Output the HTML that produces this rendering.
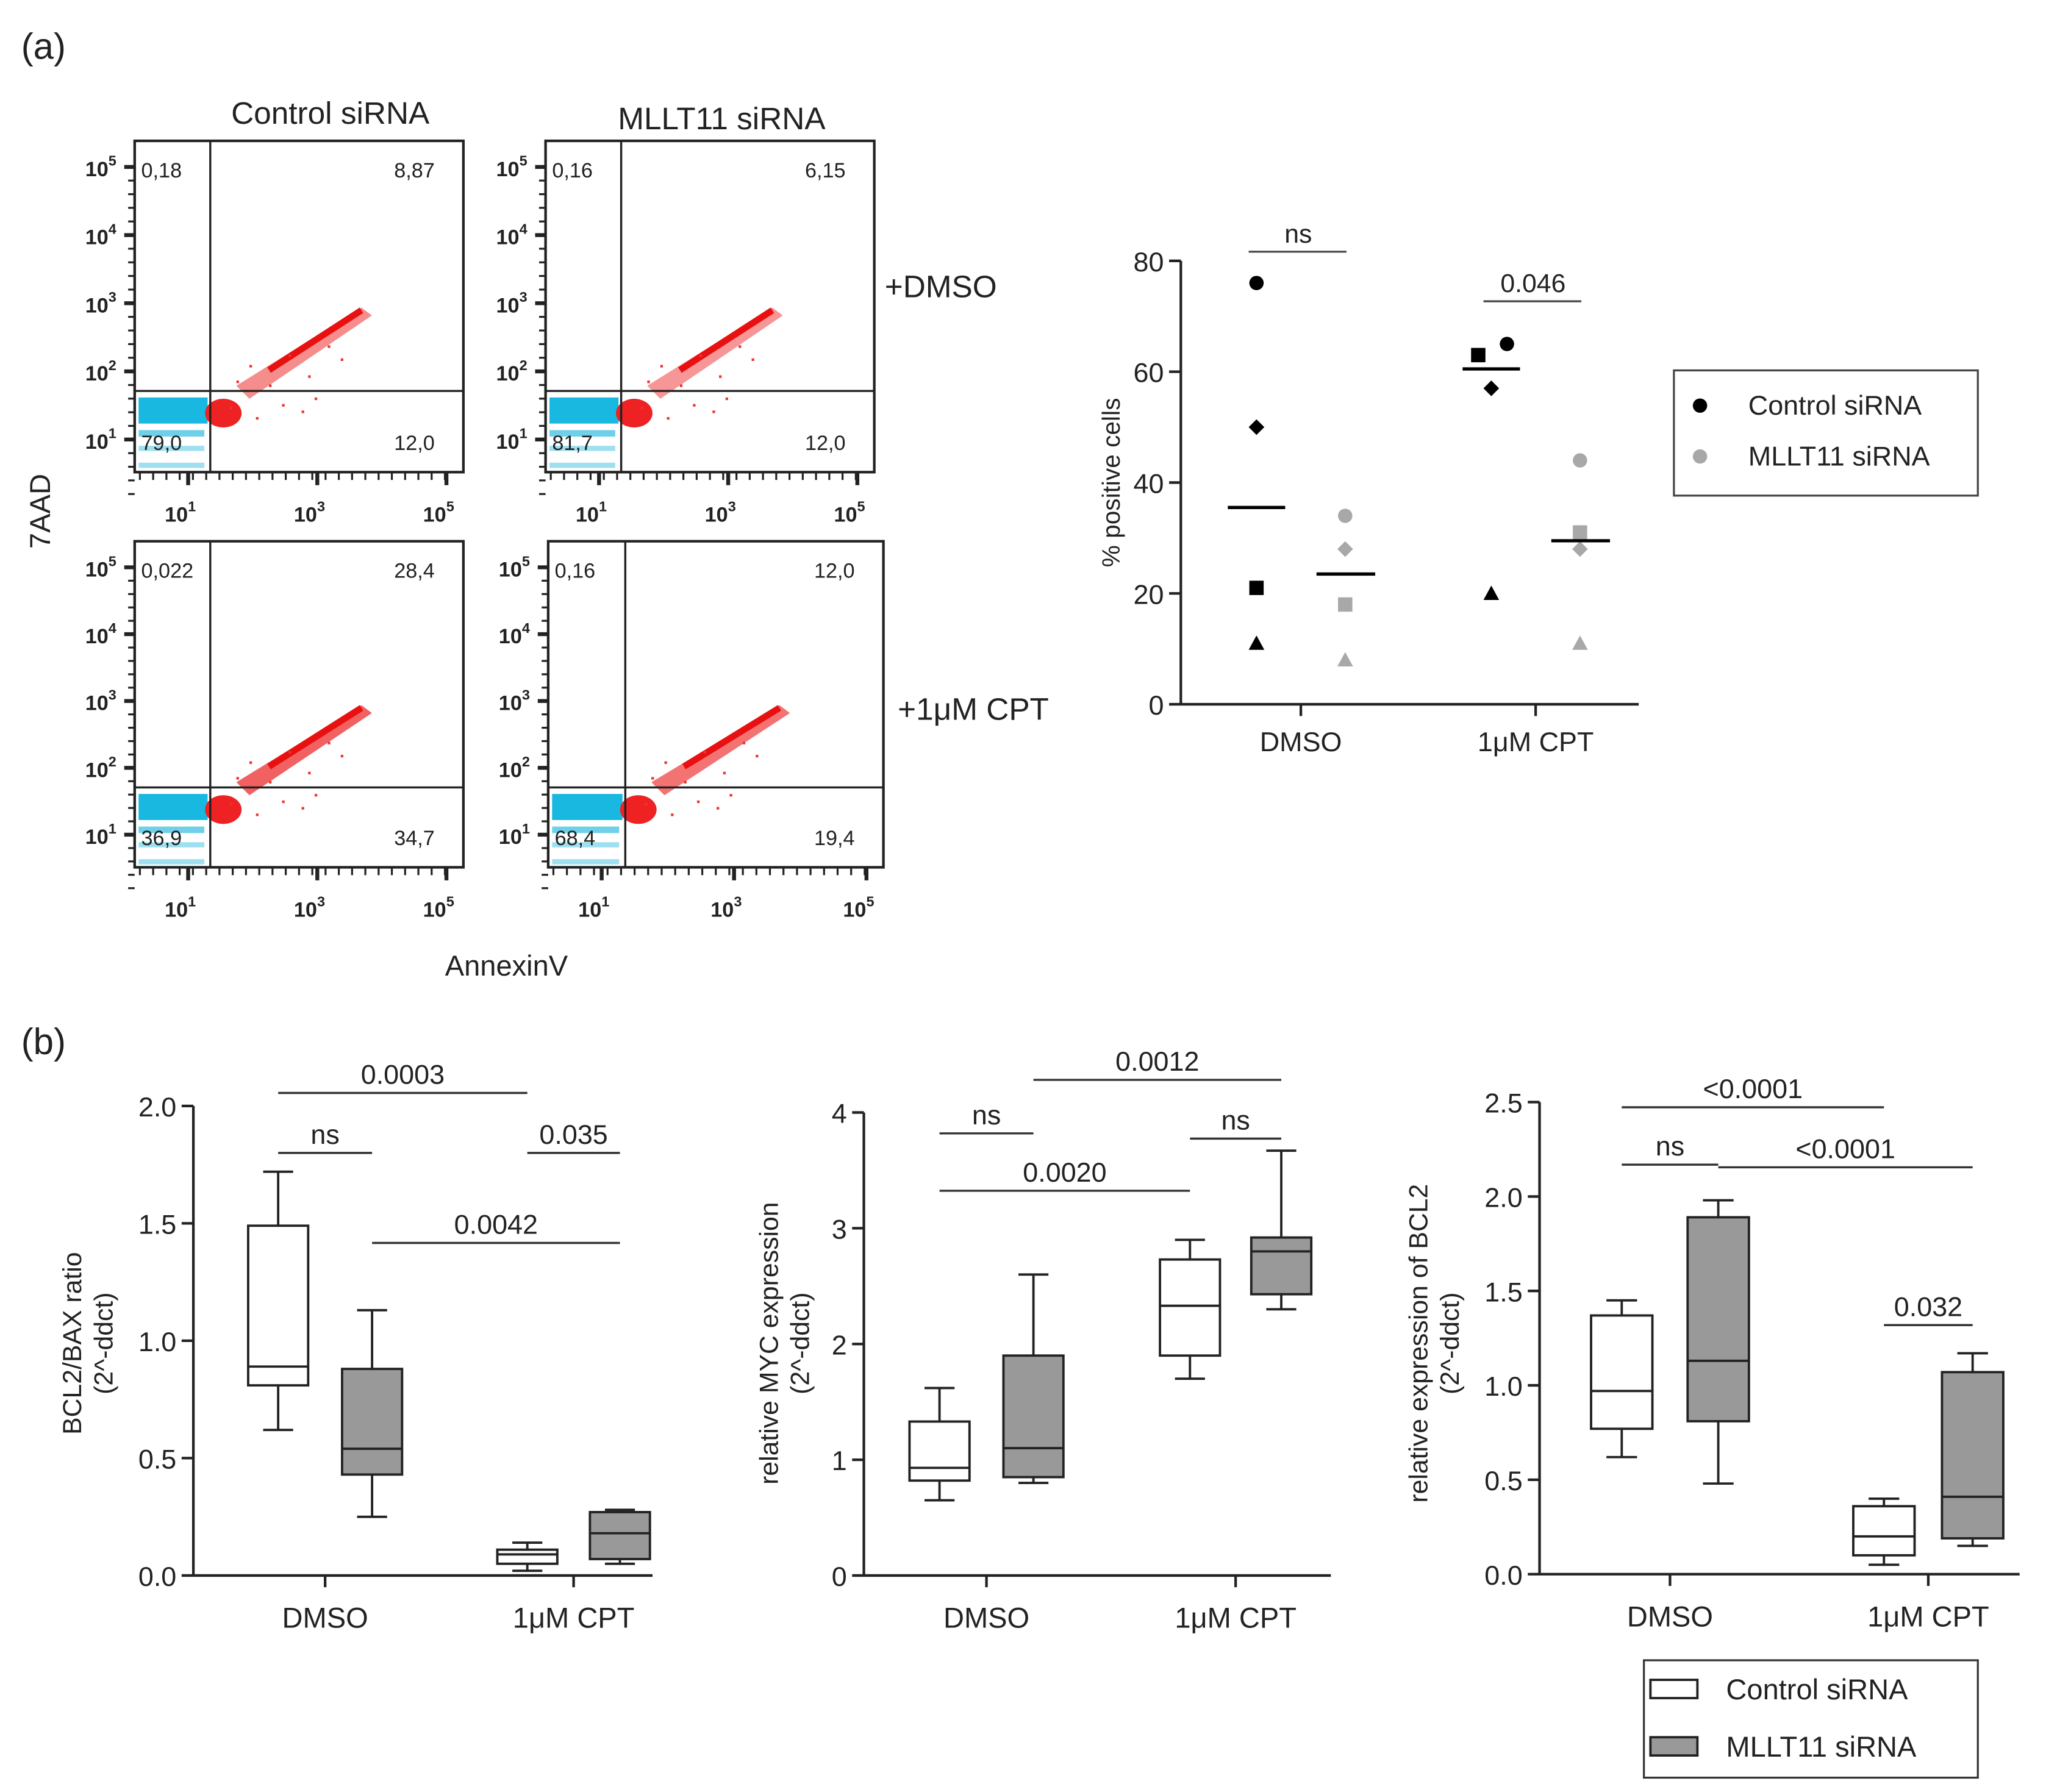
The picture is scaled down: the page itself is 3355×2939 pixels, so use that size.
<!DOCTYPE html>
<html><head><meta charset="utf-8">
<style>html,body{margin:0;padding:0;background:#fff}svg{display:block}text{font-family:"Liberation Sans",sans-serif;fill:#222}</style>
</head><body>
<svg id="fig" width="3355" height="2939" viewBox="0 0 1568 1374" xmlns="http://www.w3.org/2000/svg">
<text x="16" y="45" font-size="28">(a)</text>
<text x="16" y="808" font-size="28">(b)</text>
<text x="253" y="95" font-size="24" text-anchor="middle">Control siRNA</text>
<text x="553" y="99" font-size="24" text-anchor="middle">MLLT11  siRNA</text>
<text x="678" y="228" font-size="24">+DMSO</text>
<text x="688" y="552" font-size="24">+1μM CPT</text>
<text transform="translate(38,392) rotate(-90)" font-size="22" text-anchor="middle">7AAD</text>
<text x="388" y="748" font-size="22" text-anchor="middle">AnnexinV</text>
<g id="flow"></g>
<g id="dot"></g>
<g id="box"></g>
</svg>
<script>
const NS="http://www.w3.org/2000/svg";
function mk(p,tag,attrs,txt){const e=document.createElementNS(NS,tag);for(const k in attrs)e.setAttribute(k,attrs[k]);if(txt!==undefined)e.textContent=txt;p.appendChild(e);return e;}

// ---------- Flow cytometry panels ----------
const flowPanels=[
 {x0:103,y0:108,x1:355,y1:362,q:["0,18","8,87","79,0","12,0"],ratio:0.35},
 {x0:418,y0:108,x1:670,y1:362,q:["0,16","6,15","81,7","12,0"],ratio:0.3},
 {x0:103,y0:415,x1:355,y1:665,q:["0,022","28,4","36,9","34,7"],ratio:0.6},
 {x0:420,y0:415,x1:677,y1:665,q:["0,16","12,0","68,4","19,4"],ratio:0.5}
];
const scatterOffsets=[[30,-20],[45,-5],[60,-28],[75,-12],[20,-8],[90,-35],[55,10],[70,15],[35,20],[100,-25],[15,12],[80,5]];
const flow=document.getElementById('flow');
flowPanels.forEach((p,i)=>{
 const g=mk(flow,'g',{});
 
 
 const w=p.x1-p.x0,h=p.y1-p.y0;
 const vx=p.x0+w*0.23,hy=p.y0+h*0.755;
 mk(g,'rect',{x:p.x0+3,y:hy+5,width:w*0.21,height:20,fill:'#19b8e0'});
 mk(g,'rect',{x:p.x0+3,y:hy+30,width:w*0.2,height:5,fill:'#6fd0ea'});
 mk(g,'rect',{x:p.x0+3,y:hy+42,width:w*0.2,height:4,fill:'#9fe0f0'});
 mk(g,'rect',{x:p.x0+3,y:hy+55,width:w*0.2,height:4,fill:'#9fe0f0'});
 mk(g,'ellipse',{cx:vx+10,cy:hy+17,rx:14,ry:11,fill:'#ee2222'});
 const ex=vx+w*0.46,ey=hy-h*0.22;
 mk(g,'path',{d:`M${vx+20} ${hy-4} L${ex} ${ey-8} L${ex+8} ${ey-2} L${vx+30} ${hy+6} Z`,fill:'#f05050',opacity:p.ratio+0.3});
 mk(g,'path',{d:`M${vx+45} ${hy-16} L${ex} ${ey-6}`,stroke:'#e81010','stroke-width':5});
 scatterOffsets.forEach(o=>mk(g,'rect',{x:vx+o[0],y:hy+o[1],width:2,height:2,fill:'#e33'}));
 mk(g,'rect',{x:p.x0,y:p.y0,width:w,height:h,fill:'none',stroke:'#222','stroke-width':2});
 mk(g,'line',{x1:vx,y1:p.y0,x2:vx,y2:p.y1,stroke:'#222','stroke-width':1.6});
 mk(g,'line',{x1:p.x0,y1:hy,x2:p.x1,y2:hy,stroke:'#222','stroke-width':1.6});
 const t=[[p.x0+5,p.y0+28,'start'],[p.x1-22,p.y0+28,'end'],[p.x0+5,p.y1-17,'start'],[p.x1-22,p.y1-17,'end']];
 t.forEach((q,j)=>{const e=mk(g,'text',{x:q[0],y:q[1],'font-size':16,'text-anchor':q[2]},p.q[j]);
  });
 for(let k=0;k<5;k++){const yy=p.y0+20+k*(h-45)/4;
  mk(g,'line',{x1:p.x0-8,y1:yy,x2:p.x0,y2:yy,stroke:'#222','stroke-width':3});
  const e=mk(g,'text',{x:p.x0-14,y:yy+7,'font-size':16,'text-anchor':'end','font-weight':'bold'},'10');
  mk(e,'tspan',{dy:-8,'font-size':11},String(5-k));
  for(let m=1;m<5;m++)mk(g,'line',{x1:p.x0-5,y1:yy+m*((h-45)/4)/5,x2:p.x0,y2:yy+m*((h-45)/4)/5,stroke:'#222','stroke-width':1.5});
 }
 for(let k=0;k<3;k++){const xx=p.x0+41+k*(w-54)/2;
  mk(g,'line',{x1:xx,y1:p.y1,x2:xx,y2:p.y1+10,stroke:'#222','stroke-width':3});
  const e=mk(g,'text',{x:xx-6,y:p.y1+38,'font-size':16,'text-anchor':'middle','font-weight':'bold'},'10');
  mk(e,'tspan',{dy:-8,'font-size':11},String(1+2*k));
 }
 for(let m=0;m<24;m++){const xx=p.x0+4+m*(w-8)/24;mk(g,'line',{x1:xx,y1:p.y1,x2:xx,y2:p.y1+6,stroke:'#222','stroke-width':1.5});}
});

// ---------- Dot plot (% positive cells) ----------
const dotGroups=["DMSO","1μM CPT"];
const ctrlDot=[[76,50,21,11],[65,57,63,20]]; // circle, diamond, square, triangle
const mlltDot=[[34,28,18,8],[44,28,31,11]];
const ctrlMean=[35.5,60.5];
const mlltMean=[23.5,29.5];
const dotTicks=[0,20,40,60,80];
const dot=document.getElementById('dot');
const dY=v=>540-v*340/80;
const dGX=i=>997+i*180;
mk(dot,'line',{x1:905,y1:200,x2:905,y2:540,stroke:'#222','stroke-width':2});
mk(dot,'line',{x1:905,y1:540,x2:1256,y2:540,stroke:'#222','stroke-width':2});
dotTicks.forEach(t=>{mk(dot,'line',{x1:896,y1:dY(t),x2:905,y2:dY(t),stroke:'#222','stroke-width':2});
 const e=mk(dot,'text',{x:892,y:dY(t)+8,'font-size':21,'text-anchor':'end'},String(t));
 });
dotGroups.forEach((gn,i)=>{mk(dot,'line',{x1:dGX(i),y1:540,x2:dGX(i),y2:549,stroke:'#222','stroke-width':2});
 const e=mk(dot,'text',{x:dGX(i),y:576,'font-size':21,'text-anchor':'middle'},gn);
 });
const yt=mk(dot,'text',{transform:'translate(858,370) rotate(-90)','font-size':19,'text-anchor':'middle'},'% positive cells');

function marker(p,shape,x,y,c){let e;
 if(shape===0)e=mk(p,'circle',{cx:x,cy:y,r:5.5,fill:c});
 else if(shape===1)e=mk(p,'path',{d:`M${x} ${y-6}L${x+6} ${y}L${x} ${y+6}L${x-6} ${y}Z`,fill:c});
 else if(shape===2)e=mk(p,'rect',{x:x-5.5,y:y-5.5,width:11,height:11,fill:c});
 else e=mk(p,'path',{d:`M${x} ${y-6}L${x+6} ${y+5}L${x-6} ${y+5}Z`,fill:c});
 return e;}
const ctrlOff=[[0,0,0,0],[12,0,-10,0]];
for(let i=0;i<2;i++){
 ctrlDot[i].forEach((v,s)=>{const e=marker(dot,s,dGX(i)-34+ctrlOff[i][s],dY(v),'#000');
  });
 mlltDot[i].forEach((v,s)=>{const e=marker(dot,s,dGX(i)+34,dY(v),'#a8a8a8');
  });
 const m1=mk(dot,'line',{x1:dGX(i)-56,y1:dY(ctrlMean[i]),x2:dGX(i)-12,y2:dY(ctrlMean[i]),stroke:'#000','stroke-width':2.5});
 
 const m2=mk(dot,'line',{x1:dGX(i)+12,y1:dY(mlltMean[i]),x2:dGX(i)+57,y2:dY(mlltMean[i]),stroke:'#000','stroke-width':2.5});
 
}
const dotSig=["ns","0.046"];
const dotSigY=[193,231];
dotSig.forEach((s,i)=>{mk(dot,'line',{x1:dGX(i)-40,y1:dotSigY[i],x2:dGX(i)+35,y2:dotSigY[i],stroke:'#444','stroke-width':1.5});
 const e=mk(dot,'text',{x:dGX(i)-2,y:dotSigY[i]-7,'font-size':20,'text-anchor':'middle'},s);
 });
const lg=mk(dot,'g',{});
mk(lg,'rect',{x:1283,y:284,width:233,height:96,fill:'#fff',stroke:'#444','stroke-width':1.5});
mk(lg,'circle',{cx:1303,cy:311,r:5.5,fill:'#000'});
mk(lg,'text',{x:1340,y:318,'font-size':21},'Control siRNA');
mk(lg,'circle',{cx:1303,cy:350,r:5.5,fill:'#a8a8a8'});
mk(lg,'text',{x:1340,y:357,'font-size':21},'MLLT11 siRNA');

// ---------- Box plots ----------
const boxCats=["DMSO","1μM CPT"];
const bcl2baxBoxes=[[0.62,0.81,0.89,1.49,1.72],[0.25,0.43,0.54,0.88,1.13],[0.02,0.05,0.09,0.11,0.14],[0.05,0.07,0.18,0.27,0.28]];
const mycBoxes=[[0.65,0.82,0.93,1.33,1.62],[0.8,0.85,1.1,1.9,2.6],[1.7,1.9,2.33,2.73,2.9],[2.3,2.43,2.8,2.92,3.67]];
const bcl2Boxes=[[0.62,0.77,0.97,1.37,1.45],[0.48,0.81,1.13,1.89,1.98],[0.05,0.1,0.2,0.36,0.4],[0.15,0.19,0.41,1.07,1.17]];
const bcl2baxTicks=["0.0","0.5","1.0","1.5","2.0"];
const mycTicks=["0","1","2","3","4"];
const bcl2Ticks=["0.0","0.5","1.0","1.5","2.0","2.5"];
const bcl2baxSig=[["0.0003",0,2,838],["ns",0,1,884],["0.035",2,3,884],["0.0042",1,3,953]];
const mycSig=[["ns",0,1,869],["0.0012",1,3,828],["0.0020",0,2,913],["ns",2,3,873]];
const bcl2Sig=[["<0.0001",0,2,849],["ns",0,1,893],["<0.0001",1,3,895],["0.032",2,3,1016]];
const charts=[
 {boxes:bcl2baxBoxes,ticks:bcl2baxTicks,sig:bcl2baxSig,ax:148,yTop:848,yBot:1208,max:2.0,xEnd:500,cx:[213,285,404,475],bw:46,title:["BCL2/BAX ratio","(2^-ddct)"],tx:62},
 {boxes:mycBoxes,ticks:mycTicks,sig:mycSig,ax:662,yTop:853,yBot:1208,max:4,xEnd:1020,cx:[720,792,912,982],bw:46,title:["relative MYC expression","(2^-ddct)"],tx:596},
 {boxes:bcl2Boxes,ticks:bcl2Ticks,sig:bcl2Sig,ax:1180,yTop:845,yBot:1207,max:2.5,xEnd:1548,cx:[1243,1317,1444,1512],bw:47,title:["relative expression of BCL2","(2^-ddct)"],tx:1094}
];
const box=document.getElementById('box');
charts.forEach((c,ci)=>{
 const g=mk(box,'g',{});
 const Y=v=>c.yBot-v/c.max*(c.yBot-c.yTop);
 mk(g,'line',{x1:c.ax,y1:c.yTop,x2:c.ax,y2:c.yBot,stroke:'#222','stroke-width':2});
 mk(g,'line',{x1:c.ax,y1:c.yBot,x2:c.xEnd,y2:c.yBot,stroke:'#222','stroke-width':2});
 c.ticks.forEach(t=>{const v=parseFloat(t);mk(g,'line',{x1:c.ax-9,y1:Y(v),x2:c.ax,y2:Y(v),stroke:'#222','stroke-width':2});
  const e=mk(g,'text',{x:c.ax-13,y:Y(v)+8,'font-size':21,'text-anchor':'end'},t);
  });
 boxCats.forEach((b,i)=>{const x=(c.cx[2*i]+c.cx[2*i+1])/2;
  mk(g,'line',{x1:x,y1:c.yBot,x2:x,y2:c.yBot+9,stroke:'#222','stroke-width':2});
  const e=mk(g,'text',{x:x,y:c.yBot+40,'font-size':22,'text-anchor':'middle'},b);
  });
 const tt=mk(g,'text',{transform:`translate(${c.tx},1030) rotate(-90)`,'font-size':20,'text-anchor':'middle'});
 
 mk(tt,'tspan',{x:0,dy:0},c.title[0]);mk(tt,'tspan',{x:0,dy:24},c.title[1]);
 c.boxes.forEach((b,i)=>{const x=c.cx[i],hw=c.bw/2,bg=mk(g,'g',{});
  
  const col=i%2?'#999':'#fff';
  mk(bg,'line',{x1:x,y1:Y(b[0]),x2:x,y2:Y(b[4]),stroke:'#222','stroke-width':1.8});
  mk(bg,'line',{x1:x-hw/2,y1:Y(b[0]),x2:x+hw/2,y2:Y(b[0]),stroke:'#222','stroke-width':1.8});
  mk(bg,'line',{x1:x-hw/2,y1:Y(b[4]),x2:x+hw/2,y2:Y(b[4]),stroke:'#222','stroke-width':1.8});
  mk(bg,'rect',{x:x-hw,y:Y(b[3]),width:c.bw,height:Y(b[1])-Y(b[3]),fill:col,stroke:'#222','stroke-width':1.8});
  mk(bg,'line',{x1:x-hw,y1:Y(b[2]),x2:x+hw,y2:Y(b[2]),stroke:'#222','stroke-width':1.8});
 });
 c.sig.forEach(s=>{const x1=c.cx[s[1]],x2=c.cx[s[2]];
  mk(g,'line',{x1:x1,y1:s[3],x2:x2,y2:s[3],stroke:'#333','stroke-width':1.6});
  const e=mk(g,'text',{x:(x1+x2)/2,y:s[3]-7,'font-size':21,'text-anchor':'middle'},s[0]);
  });
});
const bl=mk(box,'g',{});
mk(bl,'rect',{x:1260,y:1273,width:256,height:90,fill:'#fff',stroke:'#333','stroke-width':1.5});
mk(bl,'rect',{x:1265,y:1288,width:36,height:14,fill:'#fff',stroke:'#222','stroke-width':1.8});
mk(bl,'text',{x:1323,y:1303,'font-size':22},'Control siRNA');
mk(bl,'rect',{x:1265,y:1332,width:36,height:14,fill:'#999',stroke:'#222','stroke-width':1.8});
mk(bl,'text',{x:1323,y:1347,'font-size':22},'MLLT11 siRNA');
</script>
</body></html>
